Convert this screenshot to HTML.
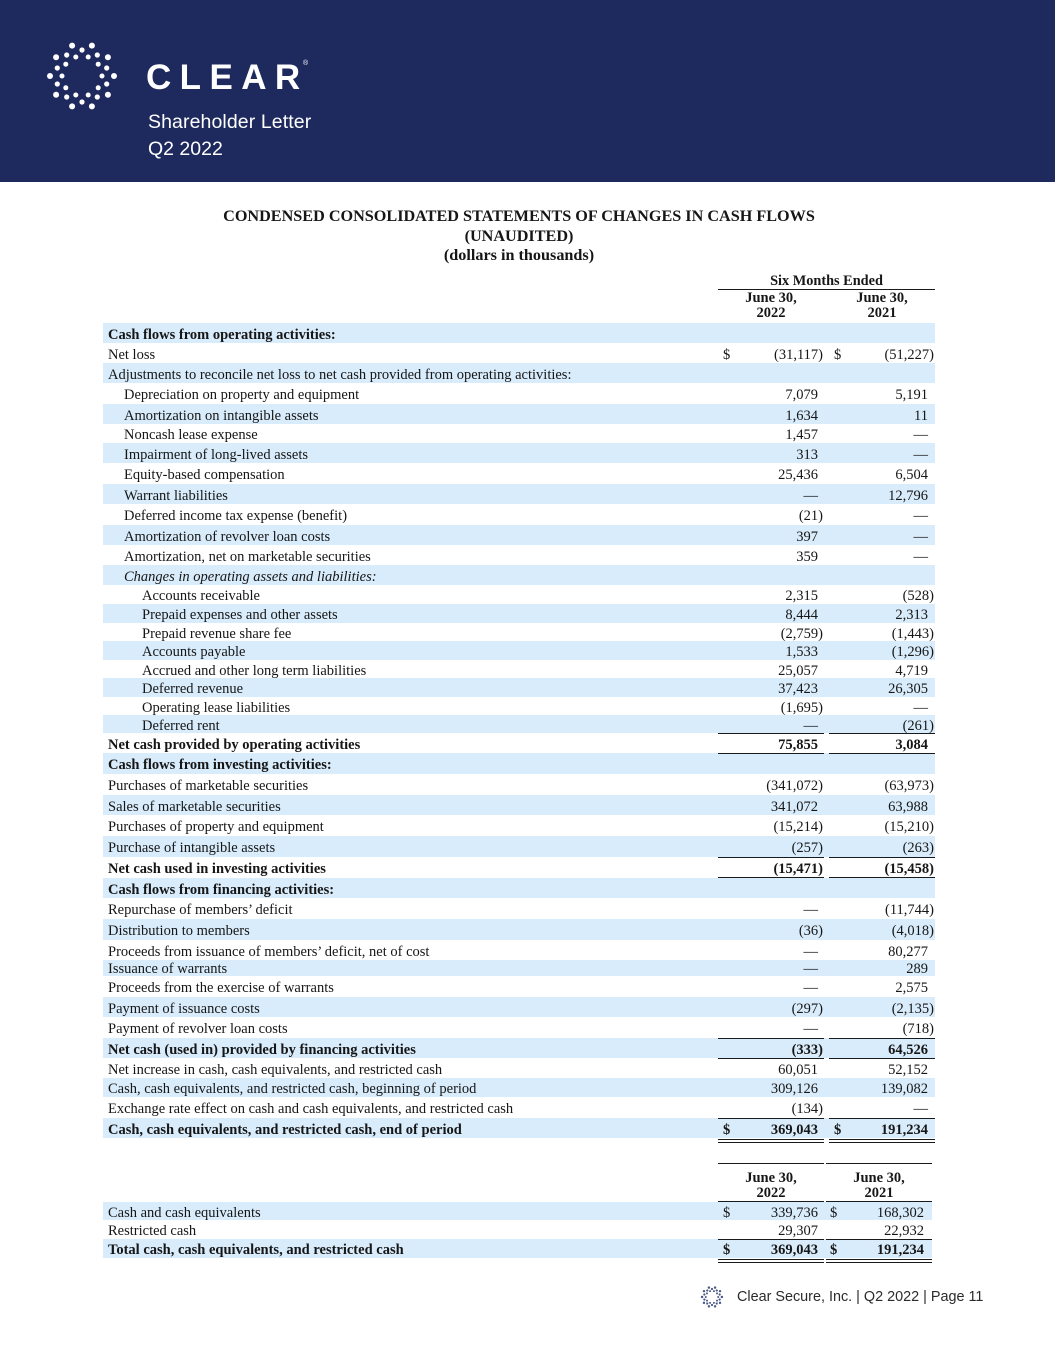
<!DOCTYPE html>
<html><head><meta charset="utf-8">
<style>
*{margin:0;padding:0;box-sizing:border-box}
html,body{width:1055px;height:1365px;background:#fff;overflow:hidden}
body{position:relative;font-family:"Liberation Serif",serif;color:#161616;font-size:14.5px}
.hdr{position:absolute;left:0;top:0;width:1055px;height:182px;background:#1e2a5d}
.sans{font-family:"Liberation Sans",sans-serif;color:#fff;position:absolute;white-space:nowrap}
.t{position:absolute;left:103px;width:832px;text-align:center;font-weight:bold;font-size:16.2px;line-height:20px}
.h{position:absolute;text-align:center;font-weight:bold;line-height:15px;font-size:14.5px;white-space:nowrap}
.r{position:absolute;left:103px;width:832px;white-space:nowrap}
.r2{width:829px}
.s{background:#d9ecfb}
.l{position:absolute;left:5px;top:1.5px}
.i1{left:21px}.i2{left:39px}
.b{font-weight:bold}
.it{font-style:italic}
.v1{position:absolute;right:117px;top:1.5px}
.v1p{right:112px}
.v2{position:absolute;right:7px;top:1.5px}
.v2p{right:1px}
.d1{position:absolute;left:620px;top:1.5px}
.d2{position:absolute;left:731px;top:1.5px}
.r2 .v1{right:114px}.r2 .v2{right:8px}.r2 .d2{left:727px}
.ln{position:absolute;height:1.3px;background:#1a1a1a}
</style></head><body>
<div class="hdr"></div>
<svg style="position:absolute;left:40px;top:34px" width="84" height="84" viewBox="40 34 84 84">
<g fill="#fff">
<circle cx="91.9" cy="45.6" r="3"/><circle cx="107.9" cy="57.2" r="3"/><circle cx="114" cy="76" r="3"/><circle cx="107.9" cy="94.8" r="3"/><circle cx="91.9" cy="106.4" r="3"/><circle cx="72.1" cy="106.4" r="3"/><circle cx="56.1" cy="94.8" r="3"/><circle cx="50" cy="76" r="3"/><circle cx="56.1" cy="57.2" r="3"/><circle cx="72.1" cy="45.6" r="3"/>
<circle cx="82" cy="50" r="2.6"/><circle cx="97.3" cy="55" r="2.6"/><circle cx="106.7" cy="68" r="2.6"/><circle cx="106.7" cy="84" r="2.6"/><circle cx="97.3" cy="97" r="2.6"/><circle cx="82" cy="102" r="2.6"/><circle cx="66.7" cy="97" r="2.6"/><circle cx="57.3" cy="84" r="2.6"/><circle cx="57.3" cy="68" r="2.6"/><circle cx="66.7" cy="55" r="2.6"/>
<circle cx="88.2" cy="57" r="2.5"/><circle cx="98.2" cy="64.2" r="2.5"/><circle cx="102" cy="76" r="2.5"/><circle cx="98.2" cy="87.8" r="2.5"/><circle cx="88.2" cy="95" r="2.5"/><circle cx="75.8" cy="95" r="2.5"/><circle cx="65.8" cy="87.8" r="2.5"/><circle cx="62" cy="76" r="2.5"/><circle cx="65.8" cy="64.2" r="2.5"/><circle cx="75.8" cy="57" r="2.5"/>
</g></svg>
<div class="sans" style="left:146px;top:60.4px;font-size:35px;line-height:35px;font-weight:bold;letter-spacing:8.4px">CLEAR</div>
<div class="sans" style="left:303px;top:60px;font-size:7px;line-height:8px">®</div>
<div class="sans" style="left:148px;top:112.5px;font-size:19.5px;line-height:19.5px;letter-spacing:0.1px">Shareholder Letter</div>
<div class="sans" style="left:148px;top:140px;font-size:19.5px;line-height:19.5px">Q2 2022</div>

<div class="t" style="top:206px">CONDENSED CONSOLIDATED STATEMENTS OF CHANGES IN CASH FLOWS</div>
<div class="t" style="top:225.5px">(UNAUDITED)</div>
<div class="t" style="top:245px">(dollars in thousands)</div>

<div class="h" style="left:718px;width:217px;top:274px;font-size:14.3px">Six Months Ended</div>
<div class="ln" style="left:718px;width:217px;top:288.5px"></div>
<div class="h" style="left:718px;width:106px;top:291px">June 30,<br>2022</div>
<div class="h" style="left:829px;width:106px;top:291px">June 30,<br>2021</div>
<div class="ln" style="left:718px;width:106px;top:322.5px"></div>
<div class="ln" style="left:829px;width:106px;top:322.5px"></div>

<div class="r s" style="top:323px;height:20px;line-height:20px"><span class="l b">Cash flows from operating activities:</span></div>
<div class="r" style="top:343px;height:20px;line-height:20px"><span class="l">Net loss</span><span class="d1">$</span><span class="v1 v1p">(31,117)</span><span class="d2">$</span><span class="v2 v2p">(51,227)</span></div>
<div class="r s" style="top:363px;height:20px;line-height:20px"><span class="l">Adjustments to reconcile net loss to net cash provided from operating activities:</span></div>
<div class="r" style="top:383px;height:21px;line-height:21px"><span class="l i1">Depreciation on property and equipment</span><span class="v1">7,079</span><span class="v2">5,191</span></div>
<div class="r s" style="top:404px;height:20px;line-height:20px"><span class="l i1">Amortization on intangible assets</span><span class="v1">1,634</span><span class="v2">11</span></div>
<div class="r" style="top:424px;height:19px;line-height:19px"><span class="l i1">Noncash lease expense</span><span class="v1">1,457</span><span class="v2">—</span></div>
<div class="r s" style="top:443px;height:20px;line-height:20px"><span class="l i1">Impairment of long-lived assets</span><span class="v1">313</span><span class="v2">—</span></div>
<div class="r" style="top:463px;height:21px;line-height:21px"><span class="l i1">Equity-based compensation</span><span class="v1">25,436</span><span class="v2">6,504</span></div>
<div class="r s" style="top:484px;height:20px;line-height:20px"><span class="l i1">Warrant liabilities</span><span class="v1">—</span><span class="v2">12,796</span></div>
<div class="r" style="top:504px;height:21px;line-height:21px"><span class="l i1">Deferred income tax expense (benefit)</span><span class="v1 v1p">(21)</span><span class="v2">—</span></div>
<div class="r s" style="top:525px;height:20px;line-height:20px"><span class="l i1">Amortization of revolver loan costs</span><span class="v1">397</span><span class="v2">—</span></div>
<div class="r" style="top:545px;height:20px;line-height:20px"><span class="l i1">Amortization, net on marketable securities</span><span class="v1">359</span><span class="v2">—</span></div>
<div class="r s" style="top:565px;height:20px;line-height:20px"><span class="l i1 it">Changes in operating assets and liabilities:</span></div>
<div class="r" style="top:585px;height:19px;line-height:19px"><span class="l i2">Accounts receivable</span><span class="v1">2,315</span><span class="v2 v2p">(528)</span></div>
<div class="r s" style="top:604px;height:19px;line-height:19px"><span class="l i2">Prepaid expenses and other assets</span><span class="v1">8,444</span><span class="v2">2,313</span></div>
<div class="r" style="top:623px;height:18px;line-height:18px"><span class="l i2">Prepaid revenue share fee</span><span class="v1 v1p">(2,759)</span><span class="v2 v2p">(1,443)</span></div>
<div class="r s" style="top:641px;height:19px;line-height:19px"><span class="l i2">Accounts payable</span><span class="v1">1,533</span><span class="v2 v2p">(1,296)</span></div>
<div class="r" style="top:660px;height:18px;line-height:18px"><span class="l i2">Accrued and other long term liabilities</span><span class="v1">25,057</span><span class="v2">4,719</span></div>
<div class="r s" style="top:678px;height:19px;line-height:19px"><span class="l i2">Deferred revenue</span><span class="v1">37,423</span><span class="v2">26,305</span></div>
<div class="r" style="top:697px;height:18px;line-height:18px"><span class="l i2">Operating lease liabilities</span><span class="v1 v1p">(1,695)</span><span class="v2">—</span></div>
<div class="r s" style="top:715px;height:18px;line-height:18px"><span class="l i2">Deferred rent</span><span class="v1">—</span><span class="v2 v2p">(261)</span></div>
<div class="r" style="top:733px;height:20px;line-height:20px"><span class="l b">Net cash provided by operating activities</span><span class="v1 b">75,855</span><span class="v2 b">3,084</span></div>
<div class="r s" style="top:753px;height:21px;line-height:21px"><span class="l b">Cash flows from investing activities:</span></div>
<div class="r" style="top:774px;height:21px;line-height:21px"><span class="l">Purchases of marketable securities</span><span class="v1 v1p">(341,072)</span><span class="v2 v2p">(63,973)</span></div>
<div class="r s" style="top:795px;height:20px;line-height:20px"><span class="l">Sales of marketable securities</span><span class="v1">341,072</span><span class="v2">63,988</span></div>
<div class="r" style="top:815px;height:21px;line-height:21px"><span class="l">Purchases of property and equipment</span><span class="v1 v1p">(15,214)</span><span class="v2 v2p">(15,210)</span></div>
<div class="r s" style="top:836px;height:21px;line-height:21px"><span class="l">Purchase of intangible assets</span><span class="v1 v1p">(257)</span><span class="v2 v2p">(263)</span></div>
<div class="r" style="top:857px;height:21px;line-height:21px"><span class="l b">Net cash used in investing activities</span><span class="v1 v1p b">(15,471)</span><span class="v2 v2p b">(15,458)</span></div>
<div class="r s" style="top:878px;height:20px;line-height:20px"><span class="l b">Cash flows from financing activities:</span></div>
<div class="r" style="top:898px;height:21px;line-height:21px"><span class="l">Repurchase of members’ deficit</span><span class="v1">—</span><span class="v2 v2p">(11,744)</span></div>
<div class="r s" style="top:919px;height:21px;line-height:21px"><span class="l">Distribution to members</span><span class="v1 v1p">(36)</span><span class="v2 v2p">(4,018)</span></div>
<div class="r" style="top:940px;height:20px;line-height:20px"><span class="l">Proceeds from issuance of members’ deficit, net of cost</span><span class="v1">—</span><span class="v2">80,277</span></div>
<div class="r s" style="top:960px;height:16px;line-height:14px"><span class="l">Issuance of warrants</span><span class="v1">—</span><span class="v2">289</span></div>
<div class="r" style="top:976px;height:21px;line-height:21px"><span class="l">Proceeds from the exercise of warrants</span><span class="v1">—</span><span class="v2">2,575</span></div>
<div class="r s" style="top:997px;height:20px;line-height:20px"><span class="l">Payment of issuance costs</span><span class="v1 v1p">(297)</span><span class="v2 v2p">(2,135)</span></div>
<div class="r" style="top:1017px;height:21px;line-height:21px"><span class="l">Payment of revolver loan costs</span><span class="v1">—</span><span class="v2 v2p">(718)</span></div>
<div class="r s" style="top:1038px;height:20px;line-height:20px"><span class="l b">Net cash (used in) provided by financing activities</span><span class="v1 v1p b">(333)</span><span class="v2 b">64,526</span></div>
<div class="r" style="top:1058px;height:20px;line-height:20px"><span class="l">Net increase in cash, cash equivalents, and restricted cash</span><span class="v1">60,051</span><span class="v2">52,152</span></div>
<div class="r s" style="top:1078px;height:19px;line-height:19px"><span class="l">Cash, cash equivalents, and restricted cash, beginning of period</span><span class="v1">309,126</span><span class="v2">139,082</span></div>
<div class="r" style="top:1097px;height:21px;line-height:21px"><span class="l">Exchange rate effect on cash and cash equivalents, and restricted cash</span><span class="v1 v1p">(134)</span><span class="v2">—</span></div>
<div class="r s" style="top:1118px;height:20px;line-height:20px"><span class="l b">Cash, cash equivalents, and restricted cash, end of period</span><span class="d1 b">$</span><span class="v1 b">369,043</span><span class="d2 b">$</span><span class="v2 b">191,234</span></div>

<div class="ln" style="left:718px;width:106px;top:732.5px"></div><div class="ln" style="left:829px;width:106px;top:732.5px"></div>
<div class="ln" style="left:718px;width:106px;top:752.5px"></div><div class="ln" style="left:829px;width:106px;top:752.5px"></div>
<div class="ln" style="left:718px;width:106px;top:856.5px"></div><div class="ln" style="left:829px;width:106px;top:856.5px"></div>
<div class="ln" style="left:718px;width:106px;top:877px"></div><div class="ln" style="left:829px;width:106px;top:877px"></div>
<div class="ln" style="left:718px;width:106px;top:1037.5px"></div><div class="ln" style="left:829px;width:106px;top:1037.5px"></div>
<div class="ln" style="left:718px;width:106px;top:1057.5px"></div><div class="ln" style="left:829px;width:106px;top:1057.5px"></div>
<div class="ln" style="left:718px;width:106px;top:1118px"></div><div class="ln" style="left:829px;width:106px;top:1118px"></div>
<div class="ln" style="left:718px;width:106px;top:1138.8px"></div><div class="ln" style="left:829px;width:106px;top:1138.8px"></div>
<div class="ln" style="left:718px;width:106px;top:1141.6px"></div><div class="ln" style="left:829px;width:106px;top:1141.6px"></div>

<div class="ln" style="left:718px;width:106px;top:1162.5px"></div><div class="ln" style="left:826px;width:106px;top:1162.5px"></div>
<div class="h" style="left:718px;width:106px;top:1170.5px">June 30,<br>2022</div>
<div class="h" style="left:826px;width:106px;top:1170.5px">June 30,<br>2021</div>
<div class="ln" style="left:718px;width:106px;top:1200.5px"></div><div class="ln" style="left:826px;width:106px;top:1200.5px"></div>

<div class="r r2 s" style="top:1202px;height:18px;line-height:18px"><span class="l">Cash and cash equivalents</span><span class="d1">$</span><span class="v1">339,736</span><span class="d2">$</span><span class="v2">168,302</span></div>
<div class="r r2" style="top:1220px;height:19px;line-height:19px"><span class="l">Restricted cash</span><span class="v1">29,307</span><span class="v2">22,932</span></div>
<div class="r r2 s" style="top:1239px;height:19px;line-height:19px"><span class="l b">Total cash, cash equivalents, and restricted cash</span><span class="d1 b">$</span><span class="v1 b">369,043</span><span class="d2 b">$</span><span class="v2 b">191,234</span></div>
<div class="ln" style="left:718px;width:106px;top:1238.5px"></div><div class="ln" style="left:826px;width:106px;top:1238.5px"></div>
<div class="ln" style="left:718px;width:106px;top:1259px"></div><div class="ln" style="left:826px;width:106px;top:1259px"></div>
<div class="ln" style="left:718px;width:106px;top:1262px"></div><div class="ln" style="left:826px;width:106px;top:1262px"></div>

<svg style="position:absolute;left:699px;top:1284px" width="26" height="26" viewBox="40 34 84 84">
<g fill="#4a5a86">
<circle cx="91.9" cy="45.6" r="4"/><circle cx="107.9" cy="57.2" r="4"/><circle cx="114" cy="76" r="4"/><circle cx="107.9" cy="94.8" r="4"/><circle cx="91.9" cy="106.4" r="4"/><circle cx="72.1" cy="106.4" r="4"/><circle cx="56.1" cy="94.8" r="4"/><circle cx="50" cy="76" r="4"/><circle cx="56.1" cy="57.2" r="4"/><circle cx="72.1" cy="45.6" r="4"/>
<circle cx="82" cy="50" r="3.6"/><circle cx="97.3" cy="55" r="3.6"/><circle cx="106.7" cy="68" r="3.6"/><circle cx="106.7" cy="84" r="3.6"/><circle cx="97.3" cy="97" r="3.6"/><circle cx="82" cy="102" r="3.6"/><circle cx="66.7" cy="97" r="3.6"/><circle cx="57.3" cy="84" r="3.6"/><circle cx="57.3" cy="68" r="3.6"/><circle cx="66.7" cy="55" r="3.6"/>
<circle cx="88.2" cy="57" r="3.2"/><circle cx="98.2" cy="64.2" r="3.2"/><circle cx="102" cy="76" r="3.2"/><circle cx="98.2" cy="87.8" r="3.2"/><circle cx="88.2" cy="95" r="3.2"/><circle cx="75.8" cy="95" r="3.2"/><circle cx="65.8" cy="87.8" r="3.2"/><circle cx="62" cy="76" r="3.2"/><circle cx="65.8" cy="64.2" r="3.2"/><circle cx="75.8" cy="57" r="3.2"/>
</g></svg>
<div style="position:absolute;left:737px;top:1289px;font-family:'Liberation Sans',sans-serif;font-size:14.4px;line-height:16px;color:#2b2b2b;white-space:nowrap">Clear Secure, Inc. | Q2 2022 | Page 11</div>
</body></html>
